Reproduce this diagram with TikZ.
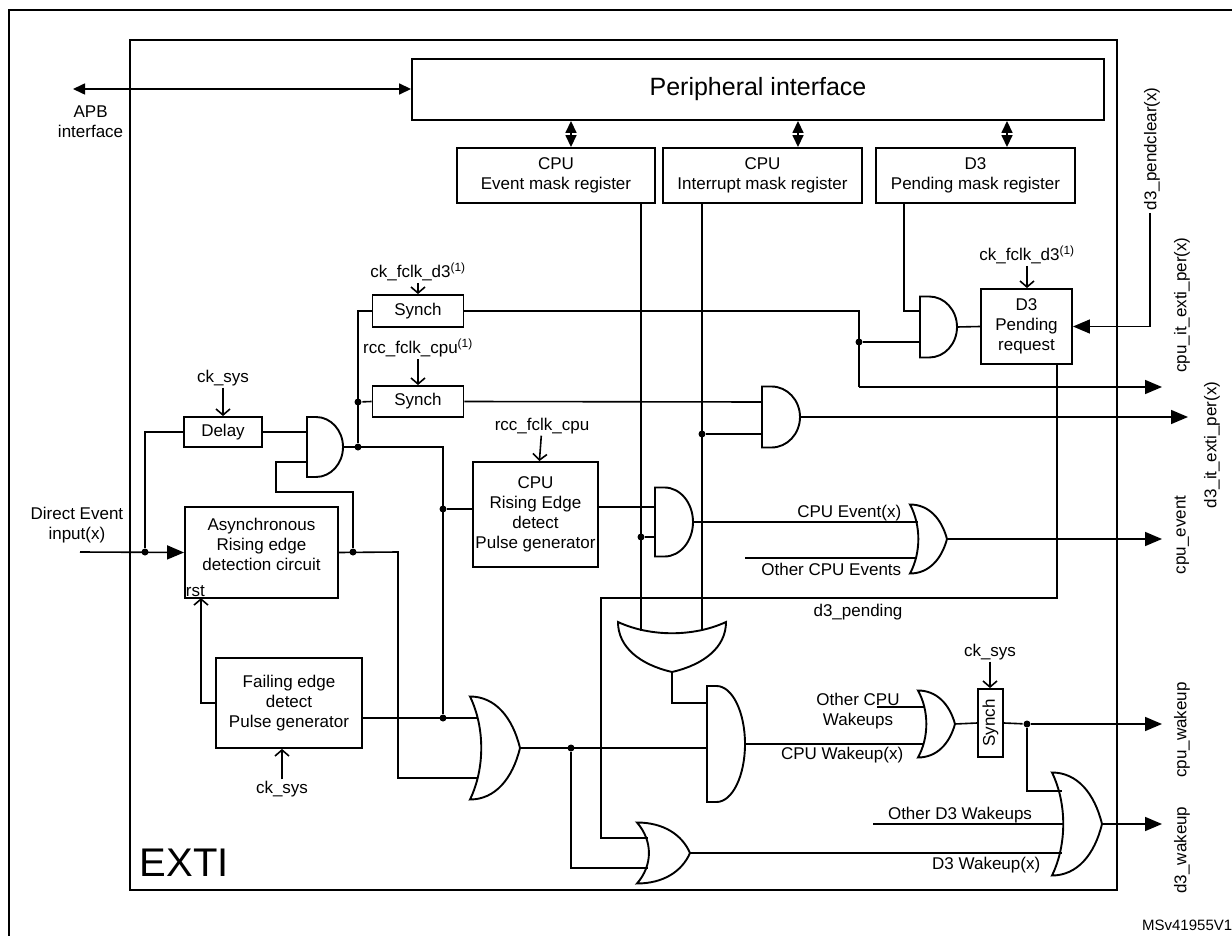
\documentclass[tikz,border=0pt]{standalone}
\usepackage{fontspec}
\setmainfont{Liberation Sans}
\usetikzlibrary{arrows.meta}

\begin{document}
\begin{tikzpicture}[x=1pt,y=1pt,line width=1.6pt,font=\fontsize{17}{20}\selectfont]
		\tikzstyle{box}=[rectangle, draw=black, line width=1.9pt, align=center, inner sep=1pt]
		\tikzstyle{lbl}=[inner sep=1pt, align=center]
		\tikzstyle{big}=[-{Triangle[length=17pt,width=14pt]}]
		\tikzstyle{dbl}=[{Triangle[length=12pt,width=11pt]}-{Triangle[length=12pt,width=11pt]}]
		\tikzstyle{clk}=[-{Straight Barb[length=6pt,width=14pt]}]
		\tikzstyle{dot}=[circle, fill=black, inner sep=0pt, minimum size=7pt]
		\tikzset{
			pics/andg/.style 2 args={code={
				\draw[line width=1.9pt] (0,{-#2/2}) -- ({0.25*#1},{-#2/2}) arc[start angle=-90,end angle=90,x radius={0.75*#1pt},y radius={#2/2*1pt}] -- (0,{#2/2}) -- cycle;
				\coordinate (-w) at (0,0);
				\coordinate (-out) at (#1,0);}},
			pics/org/.style 2 args={code={
				\draw[line width=1.9pt] (0,{-#2/2}) .. controls ({0.5*#1},{-#2/2}) and ({0.85*#1},{-0.3*#2}) .. (#1,0)
					.. controls ({0.85*#1},{0.3*#2}) and ({0.5*#1},{#2/2}) .. (0,{#2/2})
					.. controls ({0.3*#1},{0.2*#2}) and ({0.3*#1},{-0.2*#2}) .. cycle;
				\coordinate (-w) at ({0.2*#1},0);
				\coordinate (-out) at (#1,0);}}
		}
		\useasboundingbox (0,0) rectangle (1232,-936);
		\draw (1240,-10) -- (9,-10) -- (9,-940);
		\draw[line width=1.9pt] (130,-40) rectangle (1117,-890);
		\node[lbl, anchor=south west, font=\fontsize{40}{42}\selectfont] (exti) at (138,-878) {EXTI};

		% registers
		\node[box, minimum width=692, minimum height=61, font=\fontsize{25}{28}\selectfont] (pif) at (758,-89.5) {Peripheral interface};
		\node[box, minimum width=198, minimum height=55] (evm) at (556,-175.5) {CPU\\Event mask register};
		\node[box, minimum width=199, minimum height=55] (itm) at (762.5,-175.5) {CPU\\Interrupt mask register};
		\node[box, minimum width=199, minimum height=55] (pdm) at (975.5,-175.5) {D3\\Pending mask register};
		\foreach \x/\r in {571/evm,798/itm,1007/pdm}
			\draw[dbl] (\r.north -| \x,0) -- (pif.south -| \x,0);
		\coordinate (apb) at (73,-89);
		\draw[dbl] (apb) -- (apb -| pif.west);
		\node[lbl, anchor=north east] (apbl) at (125,-104) {APB\\interface};

		% blocks
		\node[box, minimum width=91, minimum height=32] (syn1) at (418,-311) {Synch};
		\node[box, minimum width=91, minimum height=31] (syn2) at (418,-401.5) {Synch};
		\node[box, minimum width=78, minimum height=30] (dly) at (223,-432) {Delay};
		\node[box, minimum width=153, minimum height=91] (asy) at (261.5,-552.5) {Asynchronous\\Rising edge\\detection circuit\\[-3pt]\hphantom{x}};
		\node[lbl, anchor=south west] (rst) at (asy.south west) {rst};
		\node[box, minimum width=125, minimum height=105] (rise) at (535.5,-514.5) {CPU\\Rising Edge\\detect\\Pulse generator};
		\node[box, minimum width=146, minimum height=90] (fall) at (289,-703) {Failing edge\\detect\\Pulse generator};
		\node[box, minimum width=91, minimum height=75] (pend) at (1026.5,-326.5) {D3\\Pending\\request};
		\node[box, minimum width=25, minimum height=68] (synw) at (990.5,-723) {\rotatebox{90}{Synch}};

		% clocks
		\node[lbl] (ck1) at (418,-272) {ck\_fclk\_d3\textsuperscript{(1)}};
		\node[lbl] (ck2) at (418,-348) {rcc\_fclk\_cpu\textsuperscript{(1)}};
		\node[lbl] (ck3) at (223,-378) {ck\_sys};
		\node[lbl] (ck4) at (542,-426) {rcc\_fclk\_cpu};
		\node[lbl] (ck5) at (282,-789) {ck\_sys};
		\node[lbl] (ck6) at (1027,-255) {ck\_fclk\_d3\textsuperscript{(1)}};
		\node[lbl] (ck7) at (990,-652) {ck\_sys};
		\draw[clk] (ck1) -- (syn1);
		\draw[clk] (ck2) -- (syn2);
		\draw[clk] (ck3) -- (dly);
		\draw[clk] (ck4) -- (rise);
		\draw[clk] (ck5) -- (ck5 |- fall.south);
		\draw[clk] (ck6) -- (ck6 |- pend.north);
		\draw[clk] (ck7) -- (ck7 |- synw.north);

		% gates
		\pic (g1) at (307,-447) {andg={36}{60}};
		\pic (g2) at (655,-522) {andg={38}{69}};
		\pic (g3) at (707,-744) {andg={38}{116}};
		\pic (g4) at (920,-327) {andg={37}{61}};
		\pic (g5) at (762,-417) {andg={38}{61}};
		\pic (obig) at (470,-748) {org={50}{103}};
		\pic (oev) at (910,-539) {org={37}{69}};
		\pic[rotate=-90] (owk) at (672,-622) {org={50}{108}};
		\pic (olow) at (637,-853) {org={53}{61}};
		\pic (ocpu) at (918,-724) {org={37}{67}};
		\pic (od3) at (1052,-824) {org={50}{103}};

		% input side
		\coordinate (din) at (80,-552);
		\draw[big] (din) -- (asy.west);
		\node[lbl, anchor=south east] (dinl) at (125,-545) {Direct Event\\input(x)};
		\node[dot] (d1) at (145,-552) {};
		\draw (d1) |- (dly.west);
		\draw (dly.east) -- (dly.east -| g1-w);
		\node[dot] (d2) at (353,-552) {};
		\draw (d2) -- (353,-492) -- (276,-492) -- (276,-462) -- (307,-462);
		\draw (asy.east) -- (398,-552) |- (478,-778);
		\node[dot] (d3) at (358,-447) {};
		\node[dot] (d4) at (358,-402) {};
		\node[dot] (d5) at (443,-509) {};
		\node[dot] (d6) at (443,-718) {};
		\draw (g1-out) -- (443,-447) -- (d6);
		\draw (d3) |- (syn1.west);
		\draw (d4) -- (syn2.west);
		\draw (d5) -- (d5 -| rise.west);
		\draw (fall.east |- d6) -- (478,-718);
		\draw[clk] (fall.west) -- (201,-703) -- (201 ,-598);

		% masks
		\draw (641,-203) -- (641,-631);
		\draw (702,-203) -- (702,-631);
		\node[dot] (d7) at (641,-537) {};
		\node[dot] (d8) at (702,-434) {};
		\draw (d7) -- (655,-537);
		\draw (d8) -- (762,-434);
		\draw (rise.east |- 0,-507) -- (655,-507);
		\draw (syn2.east) -- (762,-402);
		\draw[big] (g5-out) -- (1188,-417);
		\node[lbl, rotate=90] (d3it) at (1212,-445) {d3\_it\_exti\_per(x)};

		% d3 pending
		\coordinate (d3pm) at (904,-203);
		\draw (d3pm) |- (920,-311);
		\node[dot] (d9) at (859,-342) {};
		\draw (syn1.east) -- (859,-311) -- (859,-387);
		\draw[big] (859,-387) -- (1162,-387);
		\draw (d9) -- (920,-342);
		\draw (g4-out) -- (pend.west);
		\coordinate (pclr) at (1150,-213);
		\draw[big] (pclr) |- (pend.east);
		\node[lbl, rotate=90, anchor=west] (pclrl) at (1152,-212) {d3\_pendclear(x)};
		\node[lbl, rotate=90] (cpuit) at (1182,-305) {cpu\_it\_exti\_per(x)};
		\draw (pend.south -| 1057,0) -- (1057,-598) -- (601,-598) |- (648,-838);
		\node[lbl] (d3pl) at (858,-612) {d3\_pending};

		% events
		\draw (g2-out) -- (918,-522);
		\node[lbl, anchor=south east] (cevl) at (903,-523) {CPU Event(x)};
		\draw (745,-558) -- (917,-558);
		\node[lbl, anchor=north east] (oevl) at (903,-561) {Other CPU Events};
		\draw[big] (oev-out) -- (1162,-539);
		\node[lbl, rotate=90] (cev) at (1182,-535) {cpu\_event};

		% wakeups
		\draw (owk-out) |- (707,-703);
		\node[dot] (d10) at (571,-748) {};
		\draw (obig-out) -- (707,-748);
		\draw (d10) |- (648,-868);
		\draw (g3-out) -- (924,-744);
		\draw (877,-707) -- (924,-707);
		\node[lbl] (ocwl) at (858,-711) {Other CPU\\Wakeups};
		\node[lbl, anchor=north east] (cwkl) at (905,-745) {CPU Wakeup(x)};
		\draw (ocpu-out) -- (synw.west);
		\node[dot] (d11) at (1027,-724) {};
		\draw (synw.east) -- (d11);
		\draw[big] (d11) -- (1162,-724);
		\draw (d11) |- (1062,-791);
		\draw (873,-824) -- (1063,-824);
		\node[lbl, anchor=south] (od3l) at (960,-825) {Other D3 Wakeups};
		\draw (olow-out) -- (1062,-853);
		\node[lbl, anchor=north east] (d3wl) at (1042,-855) {D3 Wakeup(x)};
		\draw[big] (od3-out) -- (1162,-824);
		\node[lbl, rotate=90] (cwk) at (1182,-730) {cpu\_wakeup};
		\node[lbl, rotate=90] (dwk) at (1182,-850) {d3\_wakeup};
		\node[lbl, anchor=east, font=\fontsize{15}{17}\selectfont] (ms) at (1234,-925) {MSv41955V1};
	\end{tikzpicture}
\end{document}
